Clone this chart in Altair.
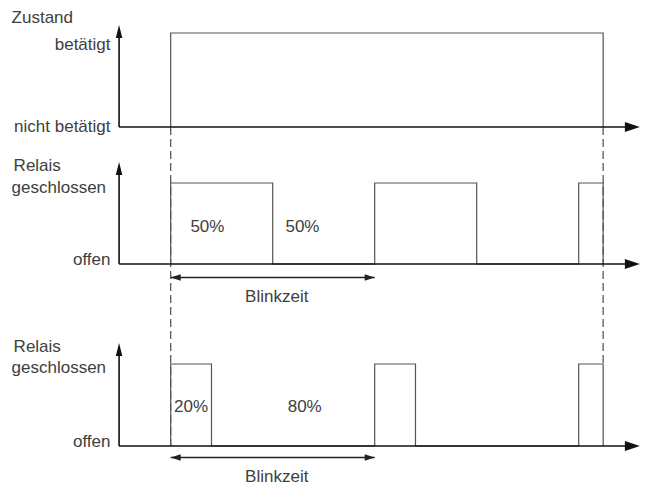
import altair as alt
import pandas as pd

# ---------------- data (time in units: one blink period = 10) ----------------
zustand_t = [0, 0, 21.2, 21.2]
zustand_s = [0, 1, 1, 0]
relais50_t = [0, 0, 5, 5, 10, 10, 15, 15, 20, 20, 21.2, 21.2]
relais50_s = [0, 1, 1, 0, 0, 1, 1, 0, 0, 1, 1, 0]
relais20_t = [0, 0, 2, 2, 10, 10, 12, 12, 20, 20, 21.2, 21.2]
relais20_s = [0, 1, 1, 0, 0, 1, 1, 0, 0, 1, 1, 0]
switch_on, switch_off = 0.0, 21.2
blink_start, blink_end = 0.0, 10.0

labels_a = ["50%", "50%"]
labels_a_t = [1.8, 6.46]
labels_b = ["20%", "80%"]
labels_b_t = [1.0, 6.57]

# ---------------- layout ----------------
W, H = 633, 479
X_DOMAIN = [-7.975, 23.055]
PX = W / (X_DOMAIN[1] - X_DOMAIN[0])  # px per time unit
AXIS_T = -2.53
ARROW_TIP_T = 23.0
LABEL_R_T = -2.95
LABEL_L_T = -7.8
panels = {
    "top": dict(base=119, high=25, tip=17),
    "mid": dict(base=256, high=175, tip=154),
    "bot": dict(base=438, high=356, tip=335),
}
FONT = "Liberation Sans"
FS = 17
TXT = "#404040"

xs = alt.Scale(domain=X_DOMAIN, nice=False, zero=False)
ys = alt.Scale(domain=[0, H], reverse=True, nice=False, zero=False)
X = lambda f="t": alt.X(f, type="quantitative", scale=xs, axis=None)
Y = lambda f="y": alt.Y(f, type="quantitative", scale=ys, axis=None)

# signals
rows = []
for name, ts, ss, p in [("zustand", zustand_t, zustand_s, "top"),
                         ("r50", relais50_t, relais50_s, "mid"),
                         ("r20", relais20_t, relais20_s, "bot")]:
    b, h = panels[p]["base"], panels[p]["high"]
    for i, (t, s) in enumerate(zip(ts, ss)):
        rows.append(dict(series=name, i=i, t=t, y=b - s * (b - h)))
sig = pd.DataFrame(rows)
signals = alt.Chart(sig).mark_line(color="#555555", strokeWidth=1.2, clip=False).encode(
    x=X(), y=Y(), detail="series:N", order="i:Q")

# dashed guide lines
dash_df = pd.DataFrame([
    dict(t=switch_on, y=panels["top"]["base"], y2=panels["bot"]["base"]),
    dict(t=switch_off, y=panels["top"]["base"], y2=panels["bot"]["high"]),
])
dashes = alt.Chart(dash_df).mark_rule(color="#5a5a5a", strokeWidth=1.3, strokeDash=[8, 4]).encode(
    x=X(), y=Y(), y2="y2:Q")

# axes lines
arrow_len_h = 15 / PX
ax_h = pd.DataFrame([dict(t=AXIS_T, t2=ARROW_TIP_T - arrow_len_h / 2, y=p["base"]) for p in panels.values()])
ax_v = pd.DataFrame([dict(t=AXIS_T, y=p["base"], y2=p["tip"] + 6.5) for p in panels.values()])
axes_h = alt.Chart(ax_h).mark_rule(color="#111111", strokeWidth=1.6).encode(x=X(), x2="t2:Q", y=Y())
axes_v = alt.Chart(ax_v).mark_rule(color="#111111", strokeWidth=1.6).encode(x=X(), y=Y(), y2="y2:Q")

head_r = pd.DataFrame([dict(t=ARROW_TIP_T - arrow_len_h / 2, y=p["base"]) for p in panels.values()])
heads_r = alt.Chart(head_r).mark_point(shape="M-1,-0.667L1,0L-1,0.667Z", size=225, filled=True,
                                       color="#111111", opacity=1, strokeWidth=0).encode(x=X(), y=Y())
head_u = pd.DataFrame([dict(t=AXIS_T, y=p["tip"] + 6.5) for p in panels.values()])
heads_u = alt.Chart(head_u).mark_point(shape="M0,-1L0.5,1L-0.5,1Z", size=169, filled=True,
                                       color="#111111", opacity=1, strokeWidth=0).encode(x=X(), y=Y())

# Blinkzeit double arrows
blink_y = [panels["mid"]["base"] + 13.5, panels["bot"]["base"] + 11.5]
bl = pd.DataFrame([dict(t=blink_start, t2=blink_end, y=y) for y in blink_y])
blink_lines = alt.Chart(bl).mark_rule(color="#222222", strokeWidth=1.4).encode(x=X(), x2="t2:Q", y=Y())
small = 10 / PX
bhr = pd.DataFrame([dict(t=blink_end - small / 2, y=y) for y in blink_y])
bhl = pd.DataFrame([dict(t=blink_start + small / 2, y=y) for y in blink_y])
bheads_r = alt.Chart(bhr).mark_point(shape="M-1,-0.65L1,0L-1,0.65Z", size=100, filled=True,
                                     color="#222222", opacity=1, strokeWidth=0).encode(x=X(), y=Y())
bheads_l = alt.Chart(bhl).mark_point(shape="M1,-0.65L-1,0L1,0.65Z", size=100, filled=True,
                                     color="#222222", opacity=1, strokeWidth=0).encode(x=X(), y=Y())

# texts
left_txt = pd.DataFrame([
    dict(t=LABEL_L_T, y=10, text="Zustand"),
    dict(t=LABEL_L_T + 0.1, y=158, text="Relais"),
    dict(t=LABEL_L_T, y=180, text="geschlossen"),
    dict(t=LABEL_L_T + 0.1, y=338.7, text="Relais"),
    dict(t=LABEL_L_T, y=360.3, text="geschlossen"),
])
right_txt = pd.DataFrame([
    dict(t=LABEL_R_T, y=37, text="betätigt"),
    dict(t=LABEL_R_T, y=119, text="nicht betätigt"),
    dict(t=LABEL_R_T, y=251.7, text="offen"),
    dict(t=LABEL_R_T, y=433.7, text="offen"),
])
center_rows = [dict(t=tt, y=219, text=s) for tt, s in zip(labels_a_t, labels_a)]
center_rows += [dict(t=tt, y=399.3, text=s) for tt, s in zip(labels_b_t, labels_b)]
center_rows += [dict(t=(blink_start + blink_end) / 2 + 0.2, y=289, text="Blinkzeit"),
                dict(t=(blink_start + blink_end) / 2 + 0.2, y=468.7, text="Blinkzeit")]
center_txt = pd.DataFrame(center_rows)

def txt(df, align):
    return alt.Chart(df).mark_text(align=align, baseline="middle", font=FONT, fontSize=FS,
                                   color=TXT).encode(x=X(), y=Y(), text="text:N")

chart = alt.layer(
    dashes, signals, axes_h, axes_v, heads_r, heads_u,
    blink_lines, bheads_r, bheads_l,
    txt(left_txt, "left"), txt(right_txt, "right"), txt(center_txt, "center"),
).properties(
    width=W, height=H, padding=0, autosize=alt.AutoSizeParams(type="none"),
).configure_view(stroke=None)

chart.save("out.html", embed_options={"renderer": "svg", "actions": False})
